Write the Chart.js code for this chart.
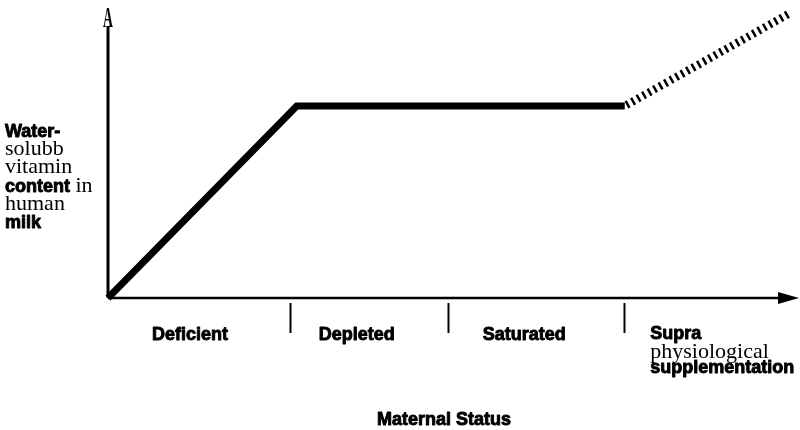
<!DOCTYPE html>
<html>
<head>
<meta charset="utf-8">
<script src="https://cdn.jsdelivr.net/npm/chart.js@4"></script>
<style>
  html, body { margin: 0; padding: 0; background: #fff; }
  #wrap { width: 800px; height: 430px; }
</style>
</head>
<body>
<div id="wrap"><canvas id="vitaminChart" width="800" height="430"></canvas></div>
<script>
// maternal status stages along the x axis
const stageNames = ['Deficient', 'Depleted', 'Saturated'];
const stageCenters = [1.19, 3.61, 6.04];
const stageBreaks = [2.64, 4.93, 7.49];
const supraStart = 7.87;

// vitamin content curve (solid) and the supplementation extension (hatched)
const statusX = [0, 2.74, 7.5];
const contentY = [0, 10, 10];
const supraX = [7.5, 9.9];
const supraY = [10, 14.84];

// multi-font labels: 'b' = bold sans, 's' = serif
const yLabelLines = [
  [['Water-', 'b']],
  [['solubb', 's']],
  [['vitamin', 's']],
  [['content', 'b'], [' in', 's']],
  [['human', 's']],
  [['milk', 'b']]
];
const supraLines = [
  [['Supra', 'b']],
  [['physiological', 's']],
  [['supplementation', 'b']]
];
const xTitle = 'Maternal Status';

const BOLD = 'bold 18px "Liberation Sans", Arial, sans-serif';
const SERIF = '22px "Liberation Serif", "Times New Roman", serif';

// fill plus a thin outline so the type reads heavy
function heavyText(ctx, text, x, y, w) {
  ctx.fillText(text, x, y);
  if (w > 0) {
    ctx.lineWidth = w;
    ctx.strokeText(text, x, y);
  }
}

function drawRuns(ctx, runs, x, y) {
  runs.forEach(([text, kind]) => {
    ctx.font = kind === 'b' ? BOLD : SERIF;
    heavyText(ctx, text, x, y, kind === 'b' ? 0.9 : 0);
    x += ctx.measureText(text).width;
  });
}

const axesPlugin = {
  id: 'axesPlugin',
  beforeDatasetsDraw(chart) {
    const ctx = chart.ctx;
    const xs = chart.scales.x, ys = chart.scales.y;
    const x0 = xs.getPixelForValue(0), y0 = ys.getPixelForValue(0);
    ctx.save();
    ctx.strokeStyle = '#000';
    ctx.fillStyle = '#000';
    // y axis
    ctx.lineWidth = 3;
    ctx.beginPath();
    ctx.moveTo(x0, y0);
    ctx.lineTo(x0, 26);
    ctx.stroke();
    // x axis with arrow
    ctx.lineWidth = 2.5;
    ctx.beginPath();
    ctx.moveTo(x0, y0);
    ctx.lineTo(782, y0);
    ctx.stroke();
    ctx.beginPath();
    ctx.moveTo(799, y0);
    ctx.lineTo(778, y0 - 6);
    ctx.lineTo(778, y0 + 6);
    ctx.closePath();
    ctx.fill();
    // stage dividers
    ctx.lineWidth = 2;
    stageBreaks.forEach(v => {
      const px = Math.round(xs.getPixelForValue(v)) + 0.5;
      ctx.beginPath();
      ctx.moveTo(px, y0 + 5);
      ctx.lineTo(px, y0 + 35);
      ctx.stroke();
    });
    ctx.restore();
  },
  afterDraw(chart) {
    const ctx = chart.ctx;
    const xs = chart.scales.x;
    ctx.save();
    ctx.fillStyle = '#000';
    ctx.strokeStyle = '#000';
    ctx.lineJoin = 'round';
    ctx.textBaseline = 'alphabetic';

    // arrow tip of the y axis
    ctx.save();
    ctx.translate(xs.getPixelForValue(0), 27);
    ctx.scale(0.62, 1.35);
    ctx.font = 'bold 22px "Liberation Serif", serif';
    ctx.textAlign = 'center';
    ctx.fillText('A', 0, 0);
    ctx.restore();

    // y axis label
    ctx.textAlign = 'left';
    yLabelLines.forEach((runs, i) => drawRuns(ctx, runs, 5, 137 + i * 18.2));

    // stage names
    ctx.font = BOLD;
    ctx.textAlign = 'center';
    stageNames.forEach((name, i) => {
      heavyText(ctx, name, xs.getPixelForValue(stageCenters[i]), 340, 0.9);
    });

    // supplementation stage
    ctx.textAlign = 'left';
    const sx = xs.getPixelForValue(supraStart);
    [339, 358, 373].forEach((by, i) => drawRuns(ctx, supraLines[i], sx, by));

    // axis title
    ctx.font = BOLD;
    ctx.textAlign = 'center';
    heavyText(ctx, xTitle, 444, 425, 0.9);
    ctx.restore();
  }
};

new Chart(document.getElementById('vitaminChart'), {
  type: 'scatter',
  data: {
    datasets: [
      {
        data: statusX.map((x, i) => ({ x: x, y: contentY[i] })),
        showLine: true,
        borderColor: '#000',
        borderWidth: 7,
        borderCapStyle: 'butt',
        borderJoinStyle: 'miter',
        pointRadius: 0,
        clip: false
      },
      {
        data: supraX.map((x, i) => ({ x: x, y: supraY[i] })),
        showLine: true,
        borderColor: '#000',
        borderWidth: 8,
        borderDash: [2.5, 3.8],
        borderDashOffset: -2,
        borderCapStyle: 'butt',
        pointRadius: 0,
        clip: false
      }
    ]
  },
  options: {
    responsive: false,
    animation: false,
    events: [],
    layout: { padding: { left: 108, right: 3, top: 10, bottom: 132 } },
    scales: {
      x: { type: 'linear', min: 0, max: 10, display: false },
      y: { type: 'linear', min: 0, max: 15, display: false }
    },
    plugins: {
      legend: { display: false },
      tooltip: { enabled: false }
    }
  },
  plugins: [axesPlugin]
});
</script>
</body>
</html>
